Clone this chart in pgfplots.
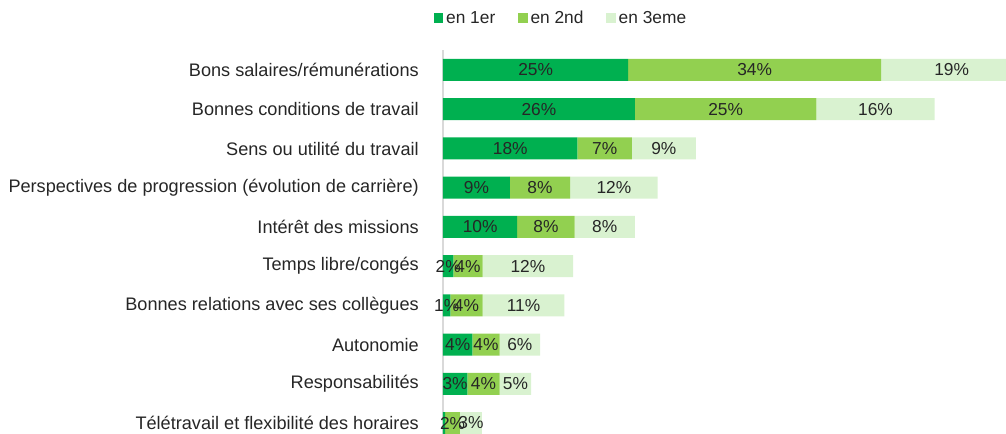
\documentclass[border=0pt]{standalone}
\usepackage{pgfplots}
\pgfplotsset{compat=1.18}
\usepackage{pgfplotstable}
\usepackage{fontspec}
\setmainfont{Liberation Sans}
\definecolor{g1}{HTML}{00B050}
\definecolor{g2}{HTML}{92D050}
\definecolor{g3}{HTML}{D9F2D0}
\definecolor{txt}{HTML}{262626}

\pgfplotstableread{
y a b c la lb lc
9 25.2 34.4 19.2 25\% 34\% 19\%
8 26.1 24.7 16.1 26\% 25\% 16\%
7 18.3 7.4 8.7 18\% 7\% 9\%
6 9.1 8.2 11.9 9\% 8\% 12\%
5 10.1 7.8 8.2 10\% 8\% 8\%
4 1.4 4.0 12.3 2\% 4\% 12\%
3 1.0 4.4 11.1 1\% 4\% 11\%
2 4.0 3.7 5.5 4\% 4\% 6\%
1 3.3 4.4 4.3 3\% 4\% 5\%
0 0.3 2.0 3.0 {} 2\% 3\%
}\data

\pgfplotsset{
  common/.style={
    width=422.25pt, height=288pt, scale only axis,
    xmin=0, xmax=76.6, ymin=-0.28, ymax=9.51,
  }
}

\begin{document}
\begin{tikzpicture}
\begin{axis}[
  name=main,
  common,
  xbar stacked,
  bar width=16.5pt,
  axis x line=none,
  axis y line*=left,
  y axis line style={draw=black!15, line width=0.9pt},
  major tick length=0pt,
  xtick=\empty,
  ytick={0,...,9},
  yticklabels={Télétravail et flexibilité des horaires,Responsabilités,Autonomie,Bonnes relations avec ses collègues,Temps libre/congés,Intérêt des missions,Perspectives de progression (évolution de carrière),Sens ou utilité du travail,Bonnes conditions de travail,Bons salaires/rémunérations},
  yticklabel style={font=\fontsize{13.6}{15}\selectfont, text=txt, inner sep=0pt, xshift=-18pt},
  legend style={at={(0.21,1.083)}, anchor=center, draw=none, fill=none,
    legend columns=-1, font=\fontsize{13}{14}\selectfont, text=txt,
    /tikz/every even column/.append style={column sep=15pt}},
  legend image code/.code={\fill[#1] (0pt,-3.7pt) rectangle (7.4pt,3.7pt);},
]
\addplot[fill=g1, draw=none] table[x=a, y=y] {\data};
\addplot[fill=g2, draw=none] table[x=b, y=y] {\data};
\addplot[fill=g3, draw=none] table[x=c, y=y] {\data};
\legend{en 1er, en 2nd, en 3eme}
\end{axis}
\begin{axis}[
  common,
  hide axis,
  clip=false,
  nodes near coords style={anchor=center, font=\fontsize{13}{14}\selectfont, text=txt},
]
\addplot[draw=none, mark=none, nodes near coords, point meta=explicit symbolic]
  table[x expr=\thisrow{a}/2, y=y, meta=la] {\data};
\addplot[draw=none, mark=none, nodes near coords, point meta=explicit symbolic]
  table[x expr=\thisrow{a}+\thisrow{b}/2, y=y, meta=lb] {\data};
\addplot[draw=none, mark=none, nodes near coords, point meta=explicit symbolic]
  table[x expr=\thisrow{a}+\thisrow{b}+\thisrow{c}/2, y=y, meta=lc] {\data};
\end{axis}
\pgfresetboundingbox
\path ([xshift=-332.25pt]main.south west) rectangle ([yshift=37.5pt]main.north east);
\end{tikzpicture}
\end{document}
